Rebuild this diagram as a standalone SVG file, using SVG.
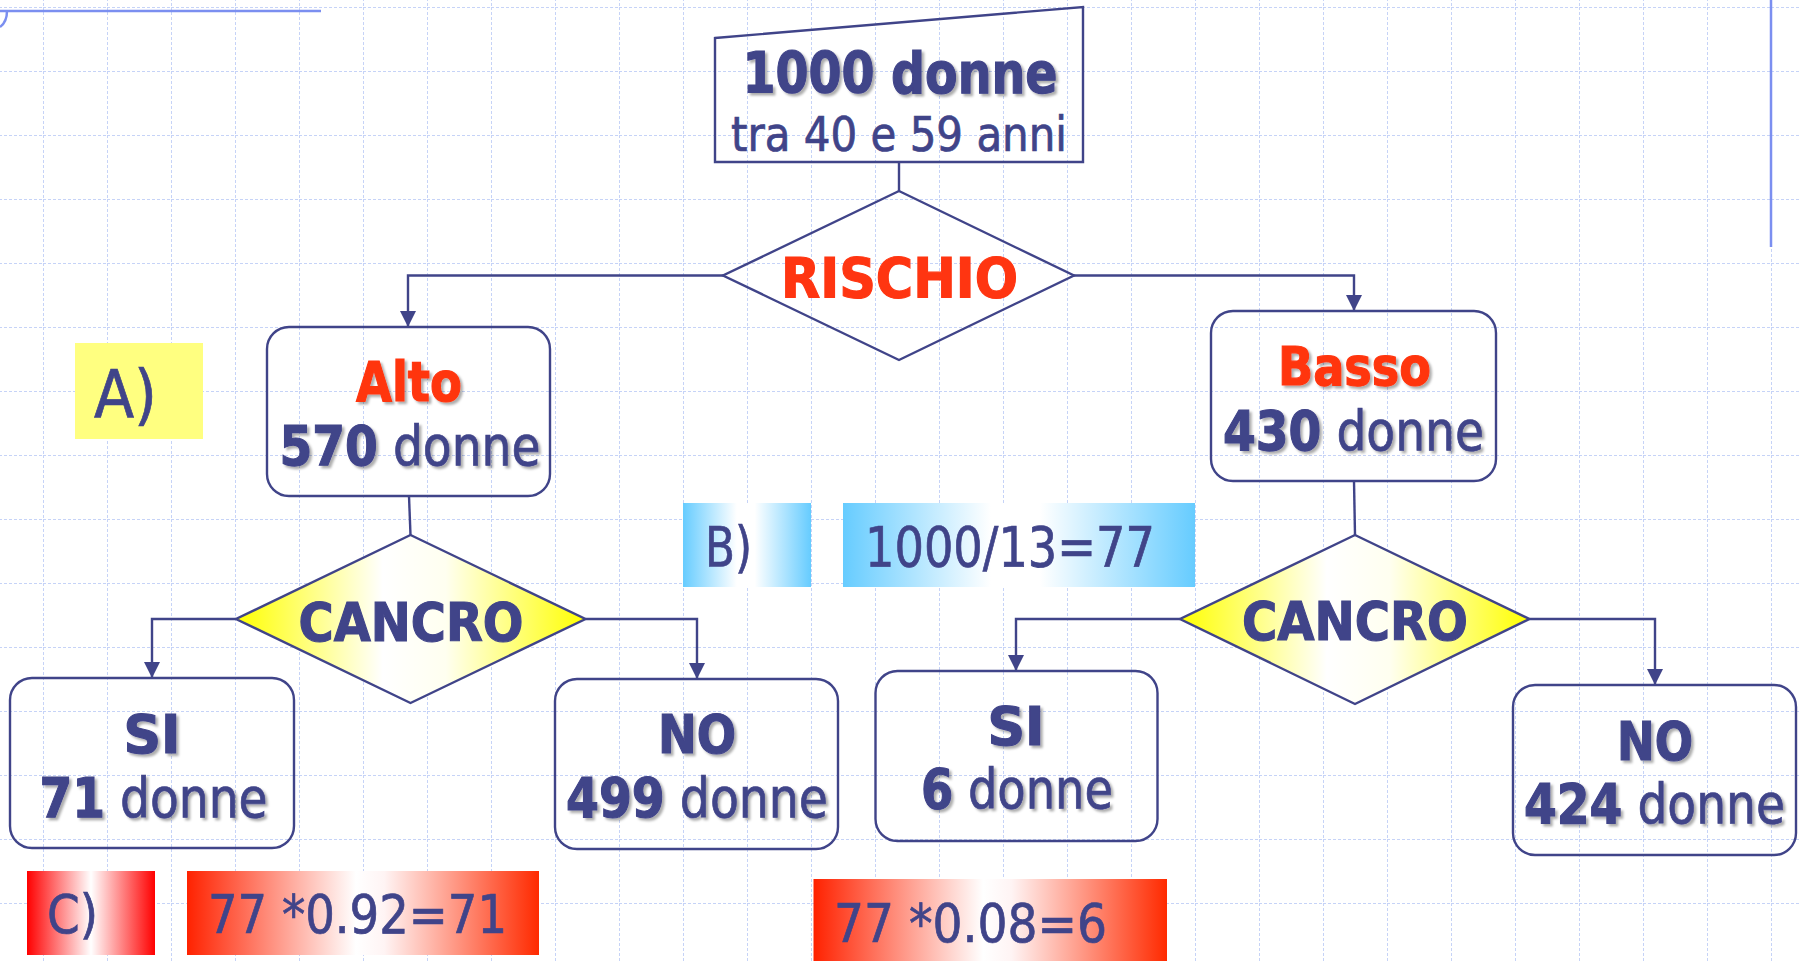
<svg xmlns="http://www.w3.org/2000/svg" width="1799" height="961" viewBox="0 0 1799 961">
  <defs>
    <pattern id="grid" x="43" y="7" width="64" height="64" patternUnits="userSpaceOnUse">
      <path d="M0 0.5H64M0.5 0V64" fill="none" stroke="#c6d3f7" stroke-width="1" stroke-dasharray="3 2"/>
    </pattern>
    <linearGradient id="yel" x1="0" y1="0" x2="1" y2="0">
      <stop offset="0" stop-color="#ffff00"/>
      <stop offset="0.42" stop-color="#ffffff"/>
      <stop offset="0.6" stop-color="#fffff0"/>
      <stop offset="1" stop-color="#ffff00"/>
    </linearGradient>
    <linearGradient id="blu" x1="0" y1="0" x2="1" y2="0">
      <stop offset="0" stop-color="#66ccff"/>
      <stop offset="0.42" stop-color="#ffffff"/>
      <stop offset="0.56" stop-color="#ffffff"/>
      <stop offset="1" stop-color="#66ccff"/>
    </linearGradient>
    <linearGradient id="red" x1="0" y1="0" x2="1" y2="0">
      <stop offset="0" stop-color="#ff2200"/>
      <stop offset="0.48" stop-color="#ffffff"/>
      <stop offset="0.56" stop-color="#fff4f4"/>
      <stop offset="1" stop-color="#ff2a00"/>
    </linearGradient>
    <linearGradient id="red2" x1="0" y1="0" x2="1" y2="0">
      <stop offset="0" stop-color="#ff0000"/>
      <stop offset="0.5" stop-color="#ffffff"/>
      <stop offset="1" stop-color="#ff0000"/>
    </linearGradient>
    <marker id="arr" viewBox="0 0 16 16" refX="16" refY="8" markerWidth="16" markerHeight="16" markerUnits="userSpaceOnUse" orient="auto">
      <path d="M0 0L16 8L0 16z" fill="#404489"/>
    </marker>
    <filter id="sh" x="-10%" y="-20%" width="120%" height="150%">
      <feDropShadow dx="2.5" dy="2.5" stdDeviation="1.3" flood-color="#000000" flood-opacity="0.32"/>
    </filter>
  </defs>
  <style>
    text { font-family: "DejaVu Sans Condensed", "DejaVu Sans", "Liberation Sans", sans-serif; text-anchor: middle; stroke-width: 0.7; }
    .nv { fill: #404489; stroke: #404489; }
    .rd { fill: #ff3511; stroke: #ff3511; }
    .b { font-weight: bold; stroke-width: 1.1; }
    .sh { filter: url(#sh); }
    .box { fill: none; stroke: #404489; stroke-width: 2.4; }
    .con { fill: none; stroke: #404489; stroke-width: 2.4; }
    .deco { fill: none; stroke: #7b8ff0; stroke-width: 2.5; }
  </style>

  <!-- page background and grid -->
  <rect width="1799" height="961" fill="#ffffff"/>
  <rect width="1799" height="961" fill="url(#grid)"/>
  <path class="deco" d="M0 11H321M0 27Q7 22 7 11"/>
  <path class="deco" d="M1771 0V247"/>

  <!-- connectors -->
  <g id="connectors">
    <path class="con" d="M899 162V191"/>
    <path class="con" d="M723 275.5H408V327" marker-end="url(#arr)"/>
    <path class="con" d="M1074 275.5H1354V311" marker-end="url(#arr)"/>
    <path class="con" d="M409 496L410.5 535"/>
    <path class="con" d="M1354 481L1355 535"/>
    <path class="con" d="M236 619H152V678" marker-end="url(#arr)"/>
    <path class="con" d="M585.5 619H697V679" marker-end="url(#arr)"/>
    <path class="con" d="M1180 619H1016V671" marker-end="url(#arr)"/>
    <path class="con" d="M1529.5 619H1655V685" marker-end="url(#arr)"/>
  </g>

  <!-- start: manual input shape -->
  <g id="start">
    <path class="box" d="M715 38L1083 7V162H715z"/>
    <text class="nv b sh" x="900" y="93" font-size="57" textLength="315" lengthAdjust="spacingAndGlyphs">1000 donne</text>
    <text class="nv" x="899" y="151" font-size="48" textLength="336" lengthAdjust="spacingAndGlyphs">tra 40 e 59 anni</text>
  </g>

  <g id="rischio">
    <path class="box" d="M899 191L1074 275.5L899 360L723 275.5z"/>
    <text class="rd b" x="899.5" y="297" font-size="55" textLength="237" lengthAdjust="spacingAndGlyphs">RISCHIO</text>
  </g>

  <g id="alto">
    <rect class="box" x="267" y="327" width="283" height="169" rx="22"/>
    <text class="rd b sh" x="409" y="401" font-size="55" textLength="106" lengthAdjust="spacingAndGlyphs">Alto</text>
    <text class="nv sh" x="410" y="465" font-size="56" textLength="261" lengthAdjust="spacingAndGlyphs"><tspan class="b">570</tspan> donne</text>
  </g>

  <g id="basso">
    <rect class="box" x="1211" y="311" width="285" height="170" rx="22"/>
    <text class="rd b sh" x="1354.5" y="385" font-size="54" textLength="153" lengthAdjust="spacingAndGlyphs">Basso</text>
    <text class="nv sh" x="1353.5" y="450" font-size="56" textLength="261" lengthAdjust="spacingAndGlyphs"><tspan class="b">430</tspan> donne</text>
  </g>

  <g id="cancro-alto">
    <path d="M410.5 535L585.5 619L410.5 703L236 619z" fill="url(#yel)" stroke="#404489" stroke-width="2.4"/>
    <text class="nv b" x="411" y="640.5" font-size="54" textLength="225" lengthAdjust="spacingAndGlyphs">CANCRO</text>
  </g>

  <g id="cancro-basso">
    <path d="M1355 535L1529.5 619L1355 704L1180 619z" fill="url(#yel)" stroke="#404489" stroke-width="2.4"/>
    <text class="nv b" x="1355" y="640" font-size="54" textLength="226" lengthAdjust="spacingAndGlyphs">CANCRO</text>
  </g>

  <g id="si-alto">
    <rect class="box" x="10" y="678" width="284" height="170" rx="22"/>
    <text class="nv b sh" x="152" y="753" font-size="54" textLength="57" lengthAdjust="spacingAndGlyphs">SI</text>
    <text class="nv sh" x="153.5" y="817" font-size="56" textLength="228" lengthAdjust="spacingAndGlyphs"><tspan class="b">71</tspan> donne</text>
  </g>

  <g id="no-alto">
    <rect class="box" x="555" y="679" width="283" height="170" rx="22"/>
    <text class="nv b sh" x="697" y="753" font-size="54" textLength="78" lengthAdjust="spacingAndGlyphs">NO</text>
    <text class="nv sh" x="697" y="817" font-size="56" textLength="262" lengthAdjust="spacingAndGlyphs"><tspan class="b">499</tspan> donne</text>
  </g>

  <g id="si-basso">
    <rect class="box" x="875.5" y="671" width="282" height="170" rx="22"/>
    <text class="nv b sh" x="1016" y="745" font-size="54" textLength="57" lengthAdjust="spacingAndGlyphs">SI</text>
    <text class="nv sh" x="1017" y="808" font-size="56" textLength="192" lengthAdjust="spacingAndGlyphs"><tspan class="b">6</tspan> donne</text>
  </g>

  <g id="no-basso">
    <rect class="box" x="1513" y="685" width="283" height="170" rx="22"/>
    <text class="nv b sh" x="1655" y="760" font-size="54" textLength="76" lengthAdjust="spacingAndGlyphs">NO</text>
    <text class="nv sh" x="1654.5" y="823" font-size="56" textLength="261" lengthAdjust="spacingAndGlyphs"><tspan class="b">424</tspan> donne</text>
  </g>

  <!-- step labels -->
  <g id="step-a">
    <rect x="75" y="343" width="128" height="96" fill="#ffff80"/>
    <text class="nv" x="125.5" y="417" font-size="65" textLength="63" lengthAdjust="spacingAndGlyphs">A)</text>
  </g>

  <g id="step-b">
    <rect x="683" y="503" width="128" height="84" fill="url(#blu)"/>
    <text class="nv" x="728.5" y="566" font-size="56" textLength="47" lengthAdjust="spacingAndGlyphs">B)</text>
  </g>

  <g id="calc-b">
    <rect x="843" y="503" width="352" height="84" fill="url(#blu)"/>
    <text class="nv" x="1010" y="566" font-size="56" textLength="290" lengthAdjust="spacingAndGlyphs">1000/13=77</text>
  </g>

  <g id="step-c">
    <rect x="27" y="871" width="128" height="84" fill="url(#red2)"/>
    <text class="nv" x="72.5" y="933" font-size="54" textLength="51" lengthAdjust="spacingAndGlyphs">C)</text>
  </g>

  <g id="calc-si-alto">
    <rect x="187" y="871" width="352" height="84" fill="url(#red)"/>
    <text class="nv" x="357.5" y="933" font-size="54" textLength="299" lengthAdjust="spacingAndGlyphs">77 *0.92=71</text>
  </g>

  <g id="calc-si-basso">
    <rect x="813.5" y="879" width="353.5" height="84" fill="url(#red)"/>
    <text class="nv" x="970.5" y="942" font-size="54" textLength="273" lengthAdjust="spacingAndGlyphs">77 *0.08=6</text>
  </g>
</svg>
